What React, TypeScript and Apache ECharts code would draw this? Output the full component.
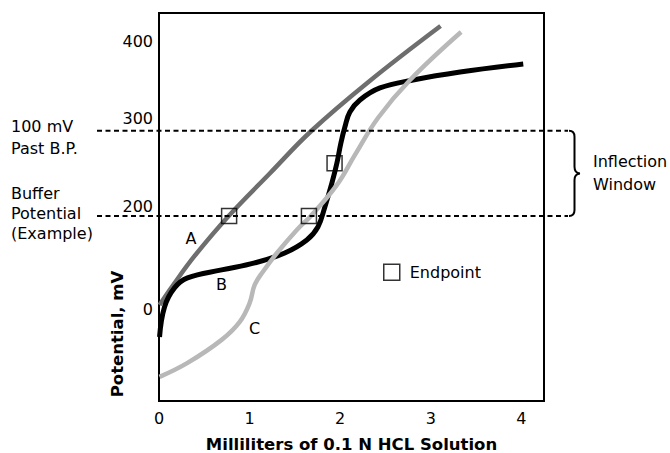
import React, { useEffect, useRef } from 'react';
import * as echarts from 'echarts';

// ---- data (x: mL of 0.1 N HCl, y: potential on the schematic mV scale) ----
const curveA: [number, number][] = [
  [0.006, 95.7], [0.149, 117.9], [0.393, 153.1], [0.769, 200], [1.217, 249.2],
  [1.681, 299.6], [2.312, 357.1], [3.108, 422.7],
];
const curveB: [number, number][] = [
  [0.006, 58.1], [0.061, 93.3], [0.171, 115.6], [0.315, 127.3], [0.691, 136.7],
  [1.056, 144.9], [1.388, 156.6], [1.632, 171.9], [1.754, 187.1],
  [1.831, 210.6], [1.909, 238.7], [1.964, 262.1], [2.008, 285.6], [2.052, 304.3],
  [2.107, 321.9], [2.218, 336.0], [2.439, 350.1], [2.804, 359.4], [3.324, 368.8],
  [4.021, 378.2],
];
const curveC: [number, number][] = [
  [0.006, 11.3], [0.315, 27.7], [0.691, 54.7], [0.891, 75.8], [1.001, 98.0],
  [1.056, 119.1], [1.145, 134.3], [1.311, 157.7], [1.521, 183.6], [1.676, 200],
  [1.964, 236.4], [2.163, 271.6], [2.417, 314.9], [2.771, 359.4], [3.335, 415.7],
];
const endpoints: [number, number][] = [[0.774, 200], [1.655, 200], [1.938, 261.8]];
const curveNames = ['A', 'B', 'C'];
const curveLabelAt: [number, number][] = [[0.354, 173.4], [0.691, 120.1], [1.055, 68.0]];

const X_TICKS_INTERVAL = 1;
// schematic y axis: tick texts and where the original drawing places them
const Y_TICK_LABELS = ['0', '200', '300', '400'];
const Y_TICK_AT = [90, 211, 314, 404];
const BUFFER_POTENTIAL = 200;
const PAST_BP = 300;

const LEFT_NOTES = ['100 mV', 'Past B.P.', 'Buffer', 'Potential', '(Example)'];
const RIGHT_NOTES = ['Inflection', 'Window'];

const FONT = 'DejaVu Sans';

const BRACE_D =
  'M0 0 C4 0 5.5 2 5.5 6 L5.5 36 C5.5 40 7 42.5 11 42.7 C7 43 5.5 45.3 5.5 49.3 L5.5 79.3 C5.5 83.3 4 85.3 0 85.3';
echarts.graphic.registerShape('brace', echarts.graphic.extendPath(BRACE_D, {}));

export default function App() {
  const ref = useRef<HTMLDivElement>(null);
  useEffect(() => {
    const chart = echarts.init(ref.current!, null, { renderer: 'svg' });
    const colors = ['#6e6e6e', '#000000', '#b8b8b8'];
    const widths = [4.5, 5, 4.5];
    const curves = [curveA, curveB, curveC];
    const lineSeries = curves.map((d, i) => ({
      type: 'line',
      name: curveNames[i],
      data: d,
      smooth: 0.4,
      showSymbol: false,
      symbol: 'none',
      lineStyle: { color: colors[i], width: widths[i] },
      z: 2 + i,
      silent: true,
      markPoint: {
        symbol: 'circle',
        symbolSize: 1,
        itemStyle: { color: 'rgba(0,0,0,0)' },
        label: {
          show: true,
          position: 'inside',
          formatter: curveNames[i],
          color: '#000',
          fontFamily: FONT,
          fontSize: 16,
        },
        data: [{ coord: curveLabelAt[i] }],
      },
    }));
    chart.setOption({
      animation: false,
      grid: {
        left: 159, top: 13, right: 126, bottom: 52,
        outerBoundsMode: 'none', containLabel: false,
        show: true, borderColor: '#000', borderWidth: 2, backgroundColor: 'transparent',
      },
      xAxis: {
        type: 'value', min: 0, max: 4.25, interval: X_TICKS_INTERVAL,
        name: 'Milliliters of 0.1 N HCL Solution',
        nameLocation: 'middle', nameGap: 35,
        nameTextStyle: { fontFamily: FONT, fontWeight: 'bold', fontSize: 16.5, color: '#000' },
        axisLine: { show: false }, axisTick: { show: false }, splitLine: { show: false },
        axisLabel: { color: '#000', fontFamily: FONT, fontSize: 16, margin: 9, showMaxLabel: false },
      },
      yAxis: {
        type: 'value', min: -17, max: 438,
        axisLine: { show: false }, axisTick: { show: false }, splitLine: { show: false },
        axisLabel: {
          customValues: Y_TICK_AT,
          color: '#000', fontFamily: FONT, fontSize: 16, margin: 6,
          formatter: (v: number) => {
            const i = Y_TICK_AT.findIndex((t) => Math.abs(t - v) < 0.5);
            return i >= 0 ? Y_TICK_LABELS[i] : '';
          },
        },
      },
      legend: {
        data: [{ name: 'Endpoint', icon: 'rect' }],
        left: 383, top: 263.5, padding: 0, itemWidth: 16, itemHeight: 16,
        selectedMode: false,
        itemStyle: { color: 'rgba(0,0,0,0)', borderColor: '#000', borderWidth: 1.5 },
        textStyle: { fontFamily: FONT, fontSize: 16, color: '#000', padding: [0, 0, 0, 5] },
      },
      series: [
        ...lineSeries,
        {
          type: 'scatter', name: 'Endpoint', data: endpoints, symbol: 'rect', symbolSize: 15,
          itemStyle: { color: 'rgba(0,0,0,0)', borderColor: '#000', borderWidth: 1.5 },
          z: 6, silent: true,
        },
      ],
    });
    const y300 = chart.convertToPixel({ gridIndex: 0 }, [0, PAST_BP])[1];
    const y200 = chart.convertToPixel({ gridIndex: 0 }, [0, BUFFER_POTENTIAL])[1];
    const dash = { stroke: '#000', lineWidth: 2, lineDash: [5, 3.5] };
    const txt = (text: string, x: number, y: number, extra: any = {}) => ({
      type: 'text', x, y, z: 10,
      style: { text, fill: '#000', fontFamily: FONT, fontSize: 16, align: 'left', verticalAlign: 'middle', ...extra },
    });
    chart.setOption({
      graphic: [
        { type: 'line', z: 10, shape: { x1: 97, y1: y300, x2: 568, y2: y300 }, style: dash },
        { type: 'line', z: 10, shape: { x1: 97, y1: y200, x2: 568, y2: y200 }, style: dash },
        {
          type: 'brace', x: 569, y: y300, scaleX: 1, scaleY: (y200 - y300) / 85.3, z: 10,
          style: { stroke: '#000', lineWidth: 2, fill: 'none' },
        },
        txt(LEFT_NOTES[0], 11, 126.5),
        txt(LEFT_NOTES[1], 11, 148),
        txt(LEFT_NOTES[2], 11, 193.5),
        txt(LEFT_NOTES[3], 11, 213),
        txt(LEFT_NOTES[4], 11, 233),
        txt(RIGHT_NOTES[0], 593, 161),
        txt(RIGHT_NOTES[1], 593, 184),
        {
          type: 'text', x: 117, y: 334, rotation: Math.PI / 2, z: 10,
          style: {
            text: 'Potential, mV', fill: '#000', fontFamily: FONT, fontSize: 16.5, fontWeight: 'bold',
            align: 'center', verticalAlign: 'middle',
          },
        },
      ],
    });
    return () => chart.dispose();
  }, []);
  return (
    <div
      ref={ref}
      style={{ position: 'absolute', left: 0, top: 0, width: 670, height: 453, background: '#fff' }}
    />
  );
}
